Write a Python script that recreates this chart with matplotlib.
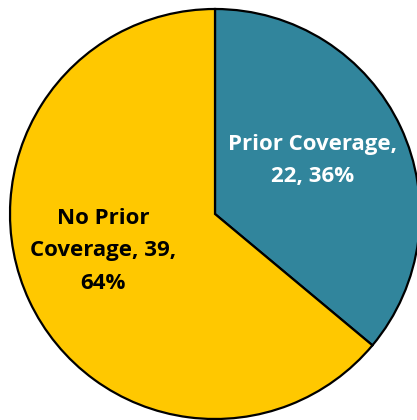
import matplotlib
matplotlib.use("Agg")
import matplotlib.pyplot as plt

labels = ["Prior Coverage", "No Prior Coverage"]
counts = [22, 39]
colors = ["#31859C", "#FFC800"]
text_colors = ["white", "black"]
# label text with manual line breaks, as in the slide deck
label_lines = ["Prior Coverage,\n{n}, {p}%", "No Prior\nCoverage, {n},\n{p}%"]
label_pos = [(0.475, 0.262), (-0.545, -0.18)]

W, H = 417, 420
cx, cy, r = 215, 214, 205

fig = plt.figure(figsize=(W / 100, H / 100), dpi=100)
ax = fig.add_axes([0, 0, 1, 1])
wedges, _ = ax.pie(counts, colors=colors, startangle=90, counterclock=False,
                   radius=1.0, center=(0, 0),
                   wedgeprops=dict(edgecolor="black", linewidth=1.6))
ax.set_aspect("auto")
ax.set_xlim(-cx / r, (W - cx) / r)
ax.set_ylim(-(H - cy) / r, cy / r)
ax.axis("off")

total = sum(counts)
for txt, n, col, (x, y) in zip(label_lines, counts, text_colors, label_pos):
    pct = round(100 * n / total)
    ax.text(x, y, txt.format(n=n, p=pct), ha="center", va="center",
            color=col, fontsize=16, fontweight="bold", family="Open Sans",
            linespacing=1.72)

fig.savefig("out.png", dpi=100)
